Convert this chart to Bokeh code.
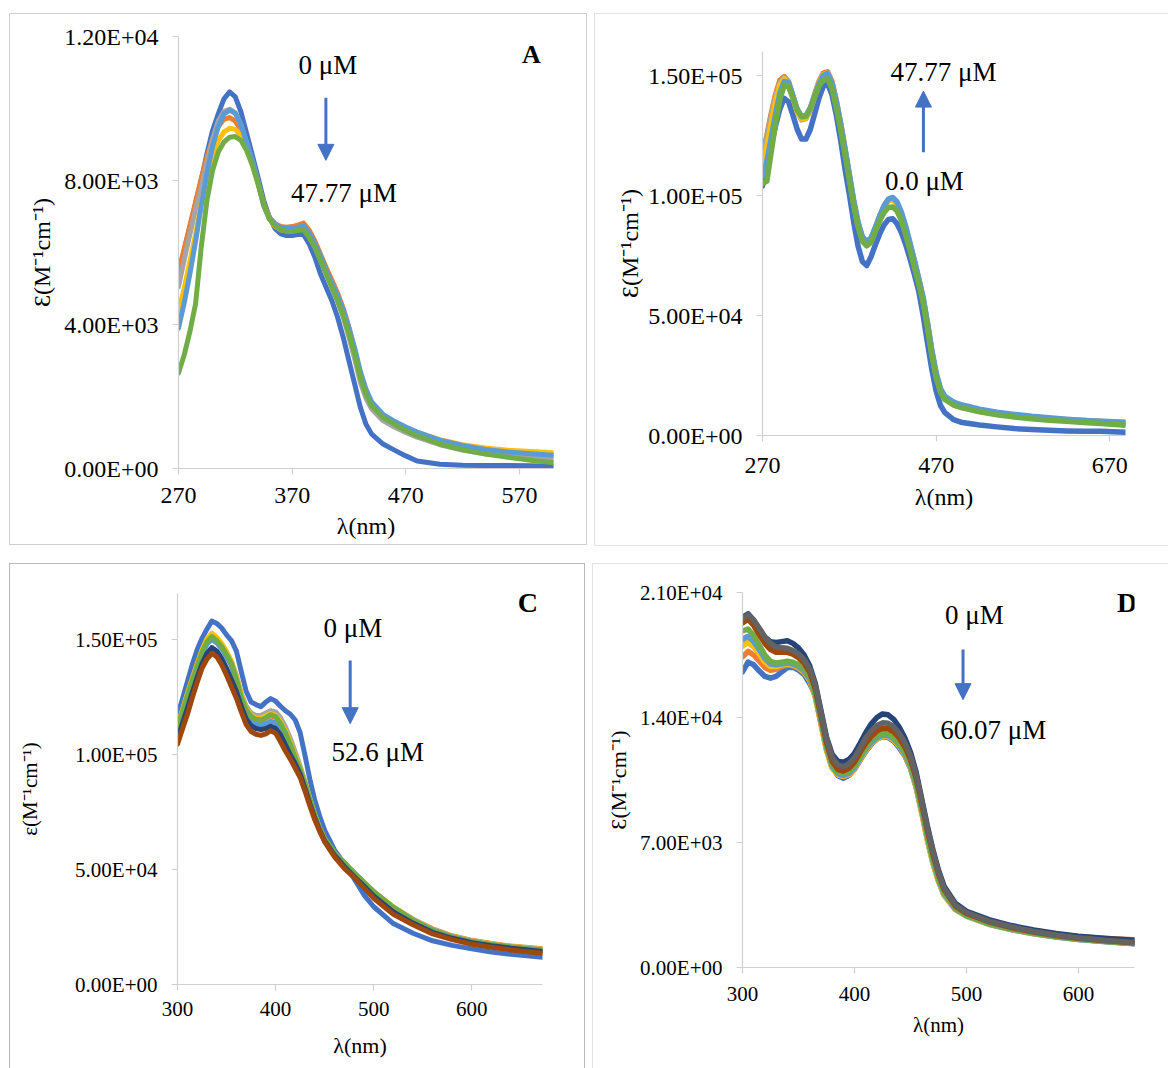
from bokeh.plotting import figure
from bokeh.models import Range1d, FixedTicker, Label, Arrow, NormalHead, CustomJSTickFormatter
from bokeh.embed import file_html
from bokeh.resources import INLINE

SERIF = "Liberation Serif"
AXIS_GRAY = "#d0d0d0"

BLUE = "#4472C4"
ORANGE = "#ED7D31"
GRAY = "#A5A5A5"
YELLOW = "#FFC000"
LIGHT_BLUE = "#5B9BD5"
GREEN = "#70AD47"
DARK_BLUE = "#264478"
BROWN = "#9E480E"
DARK_GRAY = "#636363"

# ---------------- Panel A : wavelength (nm) and molar absorptivity ----------------
A_WL = [270, 275, 280, 285, 290, 295, 300, 305, 310, 315, 320, 325, 330, 335, 340, 345, 350,
        355, 360, 365, 370, 375, 380, 385, 390, 395, 400, 405, 410, 415, 420, 425, 430, 435,
        440, 450, 460, 470, 480, 500, 520, 540, 560, 580, 600]
A_BLUE = [5400, 6050, 6700, 7350, 8000, 8740, 9390, 9850, 10270, 10460, 10320, 9900, 9300, 8700,
          8090, 7440, 6980, 6660, 6520, 6470, 6470, 6500, 6500, 6240, 5870, 5400, 5030, 4660,
          4200, 3640, 2990, 2350, 1700, 1230, 955, 680, 510, 350, 210, 120, 90, 80, 80, 75, 65]
A_ORANGE = [5450, 6100, 6750, 7400, 8050, 8650, 9150, 9500, 9700, 9750, 9650, 9400, 9000, 8500,
            7950, 7350, 6980, 6800, 6720, 6700, 6720, 6760, 6820, 6620, 6320, 5950, 5580, 5230,
            4870, 4450, 3920, 3300, 2620, 2150, 1800, 1450, 1270, 1110, 970, 760, 610, 510, 450,
            410, 380]
A_GRAY = [5050, 5800, 6500, 7200, 7800, 8500, 9150, 9650, 9920, 9980, 9880, 9550, 9050, 8550,
          7950, 7300, 6930, 6740, 6650, 6630, 6630, 6650, 6680, 6450, 6150, 5780, 5400, 5030,
          4650, 4200, 3650, 3050, 2400, 1950, 1650, 1330, 1150, 1000, 870, 660, 510, 410, 340,
          290, 250]
A_YELLOW = [4350, 5000, 5750, 6500, 7350, 8100, 8700, 9100, 9350, 9450, 9420, 9250, 8900, 8450,
            7900, 7320, 6930, 6730, 6630, 6600, 6600, 6640, 6680, 6480, 6200, 5830, 5450, 5100,
            4750, 4330, 3820, 3250, 2600, 2130, 1790, 1450, 1280, 1130, 1000, 800, 660, 570, 510,
            470, 440]
A_LIGHT_BLUE = [3900, 4600, 5400, 6300, 7300, 8200, 8950, 9500, 9850, 9950, 9870, 9550, 9050,
                8550, 7950, 7300, 6950, 6780, 6700, 6680, 6680, 6700, 6750, 6550, 6250, 5900,
                5500, 5150, 4800, 4400, 3900, 3350, 2700, 2200, 1850, 1500, 1310, 1150, 1010, 790,
                640, 530, 460, 410, 370]
A_GREEN = [2650, 3150, 3800, 4570, 6150, 7440, 8280, 8790, 9070, 9200, 9220, 9110, 8830, 8420,
           7910, 7350, 6930, 6750, 6630, 6590, 6580, 6610, 6630, 6420, 6150, 5780, 5400, 5030,
           4660, 4250, 3740, 3180, 2530, 2070, 1740, 1420, 1230, 1050, 910, 680, 520, 400, 310,
           230, 160]
A_XTICKS = [270, 370, 470, 570]
A_YTICKS = [0, 4000, 8000, 12000]

# ---------------- Panel B ----------------
B_WL = [270, 275, 280, 285, 290, 295, 300, 305, 310, 315, 320, 325, 330, 335, 340, 345, 350,
        355, 360, 365, 370, 375, 380, 385, 390, 395, 400, 405, 410, 415, 420, 425, 430, 435,
        440, 445, 450, 455, 460, 465, 470, 475, 480, 490, 500, 520, 540, 560, 580, 600, 620,
        640, 660, 688]
B_BLUE = [104000, 112000, 121000, 129000, 136000, 140500, 139000, 133500, 127500, 123500,
          123500, 127500, 134000, 140500, 145500, 146500, 142000, 133500, 123000, 111000,
          100500, 89000, 79000, 72500, 70800, 74500, 79500, 84000, 87800, 90000, 90300, 88200,
          84500, 79500, 73500, 67000, 60000, 50000, 38500, 27500, 18500, 12500, 9500, 6600,
          5400, 4400, 3600, 2900, 2500, 2150, 1900, 1800, 1750, 1400]
B_ORANGE = [117000, 125000, 134000, 142000, 148000, 149500, 147500, 141500, 135500, 132000,
            132500, 136000, 142000, 147500, 151000, 151500, 147500, 139500, 130000, 119500,
            108500, 97500, 88500, 82500, 80500, 82000, 86500, 91500, 95500, 98300, 98800, 96800,
            92500, 86500, 79500, 72500, 65000, 57000, 46500, 35000, 25500, 19000, 15800, 13300,
            12000, 10300, 9200, 8400, 7700, 7100, 6600, 6200, 5800, 5200]
B_GRAY = [116000, 124000, 133000, 141000, 147000, 149000, 147000, 141000, 135000, 131500,
          132000, 135500, 141500, 147000, 150500, 151000, 147000, 139000, 129500, 119000,
          108000, 97000, 88000, 82200, 80300, 81800, 86200, 91200, 95200, 98000, 98500, 96500,
          92200, 86200, 79200, 72200, 64700, 56700, 46200, 34700, 25200, 18800, 15500, 13000,
          11700, 10100, 9000, 8200, 7500, 6900, 6400, 6000, 5600, 5000]
B_YELLOW = [112000, 120000, 130000, 139000, 146000, 148500, 146500, 140800, 135000, 131800,
            132300, 135800, 141300, 146800, 150300, 150700, 146700, 138700, 129200, 118700,
            107700, 96700, 87700, 82000, 80000, 81500, 86000, 91000, 95000, 97800, 98300, 96300,
            92000, 86000, 79000, 72000, 64500, 56500, 46000, 34500, 25000, 18700, 15500, 13100,
            11900, 10300, 9200, 8400, 7700, 7100, 6600, 6200, 5800, 5300]
B_LIGHT_BLUE = [108000, 114000, 124000, 134000, 142500, 147500, 147000, 141500, 136000, 133000,
                133300, 136500, 141500, 146500, 150000, 150800, 146800, 139000, 130000, 119500,
                108800, 98000, 89000, 82800, 80800, 82300, 86700, 91500, 95800, 98500, 99200,
                97300, 93000, 87000, 80000, 72800, 65300, 57500, 47000, 35500, 26000, 19500,
                16300, 13900, 12700, 11000, 9700, 8800, 8000, 7400, 6800, 6300, 5900, 5500]
B_GREEN = [105000, 106000, 118000, 130000, 140000, 146000, 145500, 140500, 135500, 132800,
           133000, 136000, 141000, 145500, 148300, 148600, 144500, 136500, 127500, 117000,
           106500, 96000, 87000, 81000, 79000, 80500, 85000, 89500, 93000, 95000, 95200, 93500,
           89500, 83500, 77000, 70000, 63000, 55500, 45000, 33500, 24000, 18000, 15000, 12700,
           11500, 9900, 8600, 7700, 7000, 6400, 5900, 5400, 5000, 4300]
B_XTICKS = [270, 470, 670]
B_YTICKS = [0, 50000, 100000, 150000]

# ---------------- Panel C ----------------
C_WL = [300, 305, 310, 315, 320, 325, 330, 335, 340, 345, 350, 355, 360, 365, 370, 375, 380,
        385, 390, 395, 400, 405, 410, 415, 420, 425, 430, 435, 440, 445, 450, 460, 470, 480,
        490, 500, 520, 540, 560, 580, 600, 620, 640, 672]
C_BLUE = [117000, 124000, 131500, 139000, 145500, 150500, 154500, 158000, 157000, 155000,
          152000, 149500, 145000, 136000, 127500, 122800, 121700, 120800, 122800, 124300,
          123200, 121000, 119000, 117500, 115000, 109500, 99500, 89000, 80000, 73000, 67000,
          58500, 52500, 46000, 39000, 33800, 26500, 22300, 19000, 17000, 15500, 14100, 13100,
          11800]
C_ORANGE = [111500, 118000, 125000, 131500, 138000, 144000, 148300, 150500, 149000, 146500,
            143000, 139000, 132800, 124800, 119000, 116000, 115000, 114800, 115800, 116800,
            116200, 113300, 109300, 104300, 98300, 93200, 87200, 80300, 73300, 67800, 63200,
            57300, 52800, 48500, 44300, 40300, 33700, 28400, 24200, 21200, 19200, 17800, 16700,
            15500]
C_GRAY = [112500, 119000, 126000, 132500, 139000, 145000, 149800, 152000, 150500, 148000,
          144500, 140500, 134500, 126500, 121000, 118000, 117000, 117000, 118000, 119000,
          118500, 116000, 112000, 107000, 101000, 95000, 88000, 80500, 73500, 67500, 63000,
          57000, 52500, 48200, 44000, 40000, 33500, 28200, 24000, 21000, 19000, 17600, 16500,
          15200]
C_YELLOW = [112800, 119500, 126500, 133000, 139500, 145500, 150300, 152800, 151000, 148300,
            144700, 140500, 134000, 126000, 120000, 117000, 116000, 115800, 116800, 117800,
            117000, 114300, 110300, 105300, 99300, 94000, 87800, 80800, 73800, 68000, 63300,
            57200, 52700, 48400, 44200, 40200, 33600, 28200, 23900, 21000, 19000, 17600, 16500,
            15300]
C_LIGHT_BLUE = [111000, 117500, 124500, 131000, 137500, 143500, 148000, 150000, 148500, 146000,
                142500, 138500, 132000, 123500, 117500, 114500, 113300, 112800, 113500, 114500,
                113700, 111000, 107300, 102500, 96800, 91800, 86000, 79300, 72500, 67000, 62600,
                56800, 52400, 48200, 44000, 40000, 33300, 28000, 23700, 20800, 18800, 17400,
                16300, 15100]
C_GREEN = [112000, 118500, 125500, 132000, 138500, 144500, 149000, 151300, 149500, 147000,
           143500, 139500, 133000, 125000, 119500, 116500, 115300, 115000, 116000, 117300,
           116500, 113500, 109500, 104500, 98500, 93500, 87500, 80500, 73500, 68000, 63500,
           57500, 53000, 48700, 44500, 40500, 33500, 28000, 23500, 20600, 18600, 17300, 16300,
           14800]
C_DARK_BLUE = [107000, 113500, 120000, 127000, 133500, 139500, 144000, 146500, 145000, 141800,
               137500, 132500, 127500, 121000, 115500, 112500, 111300, 110800, 111300, 112300,
               111300, 108600, 104200, 99800, 96000, 91500, 85200, 78500, 72300, 66900, 62400,
               56200, 51300, 47000, 42800, 38500, 31500, 26700, 22700, 20100, 18200, 16900,
               15800, 14400]
C_BROWN = [104500, 111000, 117300, 124500, 131300, 137500, 141500, 144000, 142500, 139000,
           134500, 129500, 124500, 118500, 113000, 110000, 108800, 108300, 109000, 110400,
           109200, 105500, 101500, 98000, 94000, 90000, 84000, 77500, 71500, 66500, 62000,
           55500, 50500, 46500, 42000, 37500, 30500, 26000, 22000, 19500, 17500, 16200, 15000,
           13600]
C_XTICKS = [300, 400, 500, 600]
C_YTICKS = [0, 50000, 100000, 150000]

# ---------------- Panel D ----------------
D_WL = [300, 305, 310, 315, 320, 325, 330, 335, 340, 345, 350, 355, 360, 365, 370, 375, 380,
        385, 390, 395, 400, 405, 410, 415, 420, 425, 430, 435, 440, 445, 450, 455, 460, 465,
        470, 475, 480, 490, 500, 520, 540, 560, 580, 600, 625, 650]
D_BLUE = [16550, 17100, 16950, 16600, 16300, 16200, 16300, 16550, 16800, 16820, 16650, 16400,
          15900, 15250, 13750, 12250, 11250, 10750, 10600, 10750, 11100, 11600, 12100, 12500,
          12800, 12920, 12880, 12680, 12300, 11850, 11150, 10100, 8700, 7200, 5850, 4850, 4050,
          3250, 2870, 2420, 2120, 1890, 1710, 1570, 1440, 1330]
D_ORANGE = [17400, 17700, 17500, 17150, 16800, 16650, 16700, 16850, 16950, 16900, 16750, 16500,
            16050, 15150, 13700, 12200, 11200, 10800, 10700, 10800, 11150, 11650, 12150, 12550,
            12800, 12950, 12930, 12750, 12400, 11900, 11200, 10150, 8750, 7250, 5900, 4900,
            4100, 3300, 2930, 2500, 2220, 2010, 1840, 1720, 1620, 1550]
D_GRAY = [18150, 18300, 18050, 17600, 17150, 16900, 16900, 17000, 17050, 17000, 16850, 16600,
          16150, 15200, 13700, 12200, 11200, 10850, 10750, 10850, 11200, 11700, 12200, 12600,
          12850, 13000, 12980, 12800, 12450, 11950, 11250, 10150, 8700, 7200, 5870, 4870, 4080,
          3270, 2890, 2440, 2140, 1900, 1720, 1580, 1460, 1350]
D_YELLOW = [18000, 18200, 17950, 17550, 17100, 16850, 16850, 16950, 17000, 16950, 16800, 16550,
            16100, 15150, 13650, 12150, 11150, 10800, 10700, 10800, 11150, 11650, 12150, 12550,
            12800, 12950, 12930, 12750, 12400, 11900, 11200, 10100, 8650, 7150, 5820, 4820,
            4050, 3250, 2880, 2430, 2130, 1900, 1720, 1580, 1460, 1360]
D_LIGHT_BLUE = [18400, 18550, 18250, 17800, 17300, 17000, 16950, 17000, 17050, 17000, 16850,
                16600, 16150, 15250, 13800, 12300, 11250, 10850, 10750, 10850, 11200, 11700,
                12200, 12600, 12850, 13000, 12980, 12800, 12450, 11950, 11250, 10200, 8800, 7300,
                5950, 4920, 4120, 3280, 2900, 2440, 2140, 1910, 1720, 1580, 1450, 1340]
D_GREEN = [18850, 18950, 18600, 18050, 17500, 17150, 17050, 17100, 17150, 17100, 16950, 16700,
           16250, 15350, 13900, 12400, 11350, 10950, 10850, 10950, 11300, 11800, 12300, 12700,
           12950, 13100, 13080, 12900, 12550, 12050, 11350, 10300, 8900, 7400, 6050, 5000, 4180,
           3320, 2920, 2460, 2150, 1920, 1730, 1590, 1460, 1350]
D_DARK_BLUE = [19600, 19800, 19450, 18950, 18500, 18250, 18200, 18250, 18300, 18150, 17900,
               17500, 16900, 15900, 14400, 12900, 11950, 11550, 11500, 11650, 12000, 12550,
               13150, 13650, 14000, 14200, 14150, 13900, 13450, 12850, 12050, 10950, 9450, 7950,
               6600, 5450, 4550, 3600, 3150, 2680, 2350, 2100, 1900, 1750, 1620, 1520]
D_BROWN = [19300, 19500, 19150, 18650, 18150, 17800, 17650, 17650, 17650, 17550, 17350, 17050,
           16550, 15600, 14100, 12600, 11550, 11100, 11000, 11150, 11500, 12050, 12550, 12950,
           13250, 13400, 13380, 13200, 12850, 12350, 11650, 10600, 9200, 7700, 6350, 5250, 4380,
           3450, 3030, 2560, 2240, 1990, 1790, 1640, 1500, 1390]
D_DARK_GRAY = [19550, 19750, 19450, 19000, 18500, 18150, 17950, 17900, 17880, 17750, 17550,
               17250, 16750, 15800, 14300, 12800, 11800, 11350, 11250, 11400, 11750, 12300,
               12850, 13250, 13550, 13700, 13680, 13480, 13100, 12600, 11850, 10800, 9350, 7850,
               6500, 5350, 4450, 3500, 3080, 2600, 2280, 2020, 1820, 1660, 1510, 1400]
D_XTICKS = [300, 400, 500, 600]
D_YTICKS = [0, 7000, 14000, 21000]

EXP_JS = r"""
const s = tick.toExponential(2).toUpperCase();
return s.replace(/E([+-])(\d)$/, (m, sign, d) => "E" + sign + "0" + d);
"""


def make_panel(pos, size, xr, yr, xticks, yticks, frame_box, tick_px, title_px, ylabel,
               x_standoffs, y_title_standoff, edge):
    left, top, right, bottom = frame_box
    p = figure(width=size[0], height=size[1], x_range=Range1d(*xr), y_range=Range1d(*yr),
               output_backend="svg", toolbar_location=None, title=None,
               min_border_left=left, min_border_top=top, min_border_right=right,
               min_border_bottom=bottom)
    p.border_fill_color = None
    p.background_fill_color = None
    p.outline_line_color = None
    p.xgrid.visible = False
    p.ygrid.visible = False
    p.styles = {"position": "absolute", "left": f"{pos[0]}px", "top": f"{pos[1]}px",
                "box-shadow": edge}

    p.xaxis.ticker = FixedTicker(ticks=xticks)
    p.yaxis.ticker = FixedTicker(ticks=yticks)
    p.yaxis.formatter = CustomJSTickFormatter(code=EXP_JS)
    p.xaxis.axis_label = "λ(nm)"
    p.yaxis.axis_label = ylabel
    for ax in (p.xaxis[0], p.yaxis[0]):
        ax.axis_line_color = AXIS_GRAY
        ax.axis_line_width = 1.2
        ax.major_tick_line_color = AXIS_GRAY
        ax.major_tick_line_width = 1.2
        ax.minor_tick_line_color = None
        ax.major_tick_out = 6
        ax.major_tick_in = 0
        ax.major_label_text_font = SERIF
        ax.major_label_text_font_size = tick_px
        ax.major_label_text_color = "#000000"
        ax.axis_label_text_font = SERIF
        ax.axis_label_text_font_style = "normal"
        ax.axis_label_text_color = "#000000"
    p.xaxis.axis_label_text_font_size = title_px[0]
    p.yaxis.axis_label_text_font_size = title_px[1]
    p.xaxis.major_label_standoff = x_standoffs[0]
    p.xaxis.axis_label_standoff = x_standoffs[1]
    p.yaxis.major_label_standoff = 14
    p.yaxis.axis_label_standoff = y_title_standoff
    return p


def add_series(p, xs, series, lw):
    for ys, color in series:
        p.line(xs, ys, line_color=color, line_width=lw, line_join="round", line_cap="round")


def add_text(p, x, y, text, bold=False, size="27px"):
    p.add_layout(Label(x=x, y=y, text=text, text_font=SERIF, text_font_size=size,
                       text_font_style="bold" if bold else "normal", text_color="#000000",
                       text_align="center", text_baseline="middle"))


def add_arrow(p, x, y0, y1):
    p.add_layout(Arrow(end=NormalHead(size=16, fill_color=BLUE, line_color=BLUE),
                       x_start=x, y_start=y0, x_end=x, y_end=y1,
                       line_color=BLUE, line_width=3))


pA = make_panel((9, 13), (578, 532), (270, 600), (0, 12000), A_XTICKS, A_YTICKS,
                (169, 23, 34, 77), "24px", ("24px", "24px"), "Ɛ(M⁻¹cm⁻¹)", (13, 7), 6,
                "inset 0 0 0 1px #cfcfcf")
add_series(pA, A_WL, [(A_BLUE, BLUE), (A_ORANGE, ORANGE), (A_GRAY, GRAY), (A_YELLOW, YELLOW),
                      (A_LIGHT_BLUE, LIGHT_BLUE), (A_GREEN, GREEN)], 5)
add_text(pA, 401.5, 11220, "0 μM")
add_arrow(pA, 399.7, 10300, 8560)
add_text(pA, 415.6, 7640, "47.77 μM")
add_text(pA, 580.6, 11500, "A", bold=True, size="26px")

pB = make_panel((594, 13), (574, 533), (270, 688), (0, 160000), B_XTICKS, B_YTICKS,
                (168, 38, 43, 111), "24px", ("24px", "24px"), "Ɛ(M⁻¹cm⁻¹)", (16, 8), 2,
                "inset 1px 1px 0 0 #e3e3e3, inset 0 -1px 0 0 #e3e3e3")
add_series(pB, B_WL, [(B_BLUE, BLUE), (B_ORANGE, ORANGE), (B_GRAY, GRAY), (B_YELLOW, YELLOW),
                      (B_LIGHT_BLUE, LIGHT_BLUE), (B_GREEN, GREEN)], 5.5)
add_text(pB, 478.3, 151500, "47.77 μM")
add_arrow(pB, 455.3, 118000, 143500)
add_text(pB, 456.4, 106000, "0.0 μM")
add_text(pB, 712, 146500, "B", bold=True, size="26px")

pC = make_panel((9, 563), (576, 505), (300, 672), (0, 170000), C_XTICKS, C_YTICKS,
                (168, 30, 43, 84), "21px", ("22px", "21px"), "ε(M⁻¹cm⁻¹)", (11, 14), 30,
                "inset 1px 1px 0 0 #b8b8b8, inset -1px 0 0 0 #b8b8b8")
add_series(pC, C_WL, [(C_BLUE, BLUE), (C_ORANGE, ORANGE), (C_GRAY, GRAY), (C_YELLOW, YELLOW),
                      (C_LIGHT_BLUE, LIGHT_BLUE), (C_GREEN, GREEN), (C_DARK_BLUE, DARK_BLUE),
                      (C_BROWN, BROWN)], 5)
add_text(pC, 478.7, 155200, "0 μM")
add_arrow(pC, 476, 140900, 113400)
add_text(pC, 504.2, 101300, "52.6 μM")
add_text(pC, 657, 166000, "C", bold=True, size="28px")

pD = make_panel((592, 563), (576, 505), (300, 650), (0, 21000), D_XTICKS, D_YTICKS,
                (150, 29, 34, 101), "21px", ("21px", "22px"), "Ɛ(M⁻¹cm⁻¹)", (13, 9), 6,
                "inset 1px 1px 0 0 #e3e3e3")
add_series(pD, D_WL, [(D_BLUE, BLUE), (D_ORANGE, ORANGE), (D_GRAY, GRAY), (D_YELLOW, YELLOW),
                      (D_LIGHT_BLUE, LIGHT_BLUE), (D_GREEN, GREEN), (D_DARK_BLUE, DARK_BLUE),
                      (D_BROWN, BROWN), (D_DARK_GRAY, DARK_GRAY)], 5.5)
add_text(pD, 507, 19720, "0 μM")
add_arrow(pD, 496.9, 17810, 15000)
add_text(pD, 523.9, 13320, "60.07 μM")
add_text(pD, 643.3, 20450, "D", bold=True, size="28px")

with open("out.html", "w") as f:
    f.write(file_html([pA, pB, pC, pD], INLINE))
